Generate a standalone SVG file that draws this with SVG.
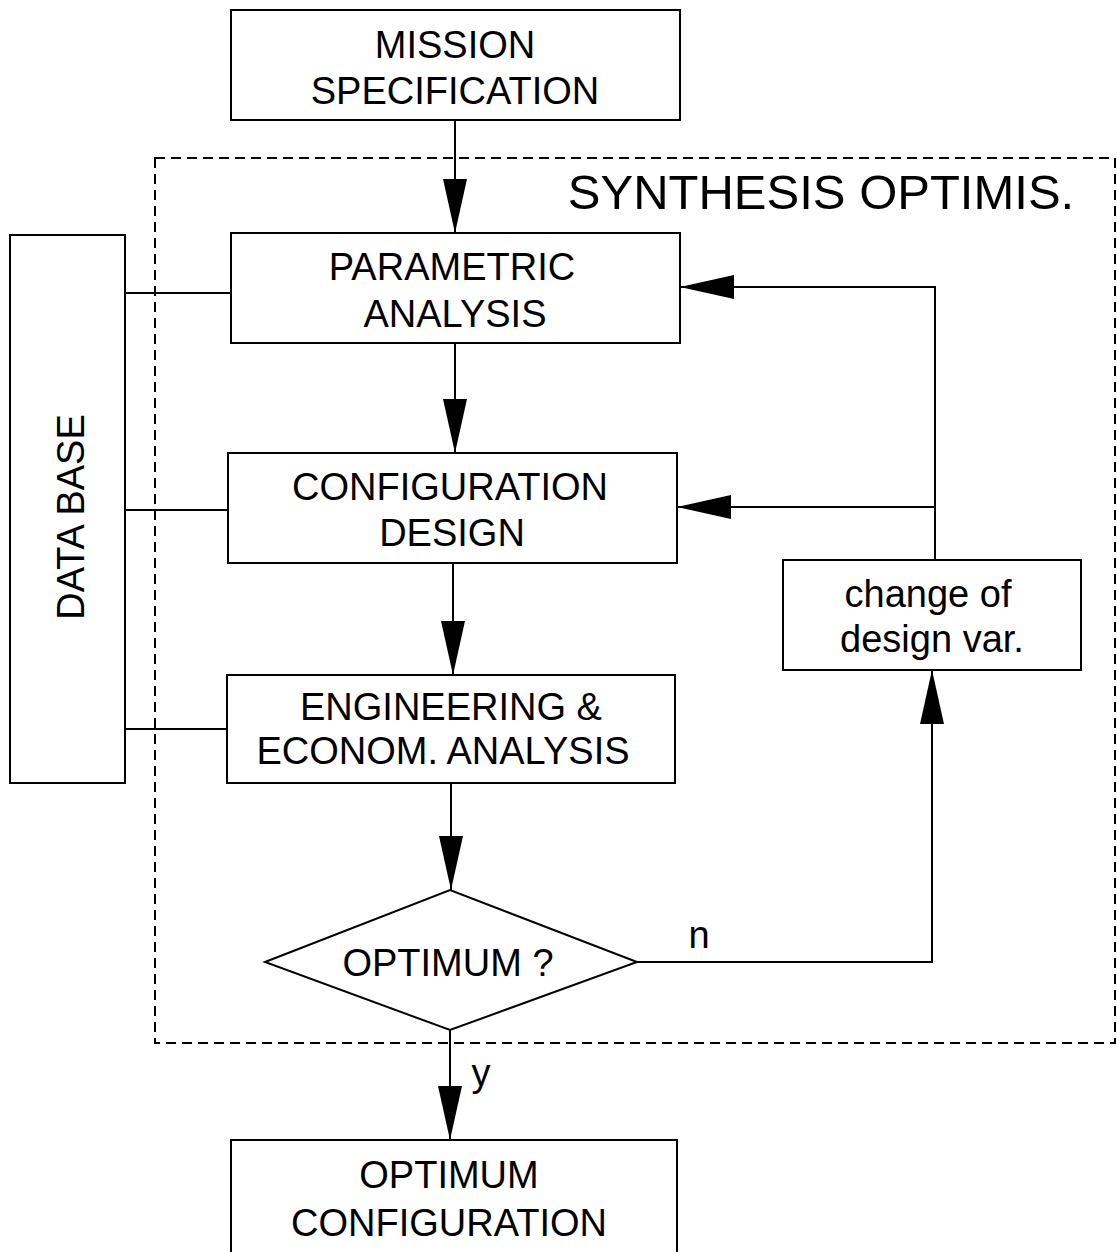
<svg xmlns="http://www.w3.org/2000/svg" width="1117" height="1252" viewBox="0 0 1117 1252">
<style>
.box{fill:#fff;stroke:#000;stroke-width:2}
.t{font-family:"Liberation Sans",Arial,sans-serif;font-size:38px;fill:#000;text-anchor:middle}
.ln{fill:none;stroke:#000;stroke-width:2}
.dash{fill:none;stroke:#000;stroke-width:2;stroke-dasharray:10,6}
</style>
<defs>
<marker id="arr" markerUnits="userSpaceOnUse" markerWidth="56" markerHeight="26" refX="54" refY="12" orient="auto">
<path d="M0,0 L54,12 L0,24 Z" fill="#000"/>
</marker>
</defs>
<rect fill="#fff" width="1117" height="1252"/>
<g id="synthesis-frame">
<rect class="dash" x="155" y="158" width="960" height="885"/>
<text class="t" x="821" y="209" style="font-size:49px">SYNTHESIS OPTIMIS.</text>
</g>
<g id="connectors">
<line class="ln" x1="455" y1="120" x2="455" y2="233" marker-end="url(#arr)"/>
<line class="ln" x1="455" y1="343" x2="455" y2="453" marker-end="url(#arr)"/>
<line class="ln" x1="453" y1="563" x2="453" y2="675" marker-end="url(#arr)"/>
<line class="ln" x1="451" y1="783" x2="451" y2="890" marker-end="url(#arr)"/>
<line class="ln" x1="450" y1="1030" x2="450" y2="1140" marker-end="url(#arr)"/>
<polyline class="ln" points="637,962 932,962 932,670" marker-end="url(#arr)"/>
<polyline class="ln" points="935,560 935,287 680,287" marker-end="url(#arr)"/>
<line class="ln" x1="935" y1="507" x2="677" y2="507" marker-end="url(#arr)"/>
<line class="ln" x1="125" y1="293" x2="231" y2="293"/>
<line class="ln" x1="125" y1="510" x2="228" y2="510"/>
<line class="ln" x1="125" y1="729" x2="227" y2="729"/>
<text class="t" x="699" y="948">n</text>
<text class="t" x="481" y="1086">y</text>
</g>
<g id="mission">
<rect class="box" x="231" y="10" width="449" height="110"/>
<text class="t" x="455" y="58">MISSION</text>
<text class="t" x="455" y="104">SPECIFICATION</text>
</g>
<g id="database">
<rect class="box" x="10" y="235" width="115" height="548"/>
<text class="t" transform="translate(84,517) rotate(-90)">DATA BASE</text>
</g>
<g id="parametric">
<rect class="box" x="231" y="233" width="449" height="110"/>
<text class="t" x="452" y="280">PARAMETRIC</text>
<text class="t" x="455" y="327">ANALYSIS</text>
</g>
<g id="configuration">
<rect class="box" x="228" y="453" width="449" height="110"/>
<text class="t" x="450" y="500">CONFIGURATION</text>
<text class="t" x="452" y="546">DESIGN</text>
</g>
<g id="engineering">
<rect class="box" x="227" y="675" width="448" height="108"/>
<text class="t" x="451" y="720">ENGINEERING &amp;</text>
<text class="t" x="443" y="764">ECONOM. ANALYSIS</text>
</g>
<g id="change">
<rect class="box" x="783" y="560" width="298" height="110"/>
<text class="t" x="928" y="607">change of</text>
<text class="t" x="932" y="652">design var.</text>
</g>
<g id="optimum-decision">
<polygon class="box" points="265,962 450,890 637,962 450,1030"/>
<text class="t" x="448" y="976">OPTIMUM ?</text>
</g>
<g id="optimum-config">
<rect class="box" x="231" y="1140" width="446" height="130"/>
<text class="t" x="449" y="1188">OPTIMUM</text>
<text class="t" x="449" y="1236">CONFIGURATION</text>
</g>
</svg>
